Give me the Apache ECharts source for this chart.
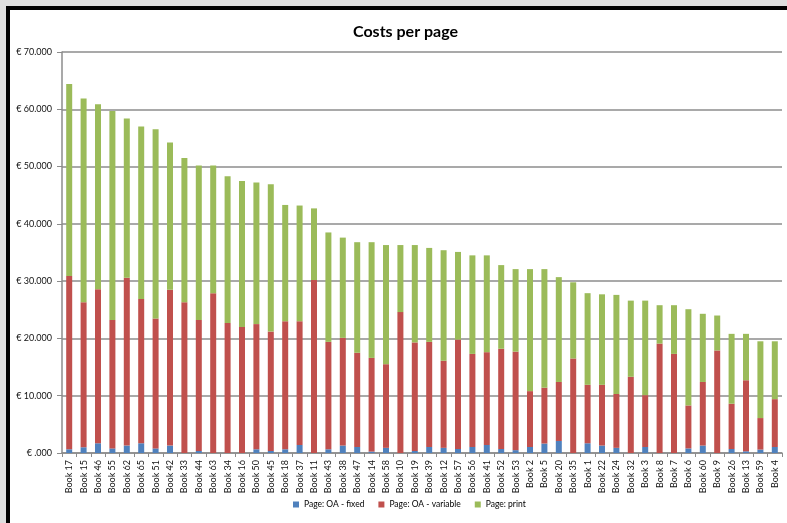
<!DOCTYPE html>
<html>
<head>
<meta charset="utf-8">
<script src="https://cdn.jsdelivr.net/npm/echarts@6/dist/echarts.min.js"></script>
<style>
  html, body { margin: 0; padding: 0; background: #fff; }
  #main { width: 787px; height: 523px; }
</style>
</head>
<body>
<div id="main"></div>
<script>
// books, sorted by total cost
const books = [
  'Book 17', 'Book 15', 'Book 46', 'Book 55', 'Book 62', 'Book 65', 'Book 51', 'Book 42', 'Book 33', 'Book 44',
  'Book 63', 'Book 34', 'Book 16', 'Book 50', 'Book 45', 'Book 18', 'Book 37', 'Book 11', 'Book 43', 'Book 38',
  'Book 47', 'Book 14', 'Book 58', 'Book 10', 'Book 19', 'Book 39', 'Book 12', 'Book 57', 'Book 56', 'Book 41',
  'Book 52', 'Book 53', 'Book 2', 'Book 5', 'Book 20', 'Book 35', 'Book 1', 'Book 22', 'Book 24', 'Book 32',
  'Book 3', 'Book 8', 'Book 7', 'Book 6', 'Book 60', 'Book 9', 'Book 26', 'Book 13', 'Book 59', 'Book 4'
];

// Page: OA - fixed
const oaFixed = [
  650, 1000, 1700, 800, 1300, 1700, 800, 1300, 0, 350,
  0, 0, 0, 650, 350, 650, 1400, 0, 650, 1300,
  1050, 250, 900, 0, 350, 1050, 900, 700, 1050, 1400,
  700, 500, 1050, 1650, 2100, 0, 1700, 1300, 900, 0,
  1050, 0, 0, 800, 1300, 0, 700, 300, 600, 1050
];

// Page: OA - variable
const oaVariable = [
  30250, 25300, 26900, 22400, 29300, 25200, 22700, 27200, 26300, 22850,
  27900, 22700, 22000, 21850, 20850, 22350, 21600, 30200, 18750, 18800,
  16450, 16350, 14600, 24600, 18950, 18350, 15200, 19100, 16250, 16200,
  17500, 17200, 9750, 9750, 10300, 16500, 10200, 10600, 9400, 13300,
  9050, 19100, 17300, 7500, 11100, 17900, 7900, 12400, 5500, 8350
];

// Page: print
const pagePrint = [
  33500, 35600, 32300, 36500, 27800, 30100, 33000, 25700, 25200, 27000,
  22300, 25600, 25500, 24700, 25700, 20300, 20200, 12500, 19100, 17500,
  19300, 20200, 20800, 11700, 17000, 16400, 19300, 15300, 17200, 16900,
  14600, 14400, 21300, 20700, 18300, 13300, 16000, 15800, 17300, 13300,
  16500, 6700, 8500, 16800, 11900, 6100, 12200, 8100, 13400, 10100
];

const font = 'Lato, "Open Sans", sans-serif';
const gridColor = '#8c8c8c';

var chartDom = document.getElementById('main');
var myChart = echarts.init(chartDom);
var option;

option = {
  animation: false,
  backgroundColor: '#dedede',
  textStyle: { fontFamily: font },
  graphic: [
    {
      type: 'rect',
      z: -10,
      shape: { x: 8, y: 8, width: 820, height: 560 },
      style: { fill: '#ffffff', stroke: '#000000', lineWidth: 4 }
    }
  ],
  title: {
    text: 'Costs per page',
    left: 348,
    top: 19,
    textStyle: { fontFamily: font, fontSize: 16, fontWeight: 'bold', color: '#000' }
  },
  legend: {
    bottom: 9,
    left: 288,
    itemWidth: 6,
    itemHeight: 6,
    itemGap: 14,
    icon: 'rect',
    textStyle: { fontFamily: font, fontSize: 8.5, color: '#000' },
    data: ['Page: OA - fixed', 'Page: OA - variable', 'Page: print']
  },
  grid: {
    left: 62,
    right: 5,
    top: 52,
    bottom: 70,
    containLabel: false
  },
  xAxis: {
    type: 'category',
    data: books,
    axisLine: { lineStyle: { color: gridColor, width: 1.5 } },
    axisTick: { show: true, inside: false, length: 4, lineStyle: { color: gridColor } },
    axisLabel: {
      interval: 0,
      rotate: 90,
      margin: 7,
      fontSize: 9,
      color: '#111',
      fontFamily: font
    }
  },
  yAxis: {
    type: 'value',
    min: 0,
    max: 70000,
    interval: 10000,
    axisLine: { show: true, lineStyle: { color: gridColor, width: 1.5 } },
    axisTick: { show: true, length: 5, lineStyle: { color: gridColor } },
    splitLine: { show: true, lineStyle: { color: gridColor, width: 1.5 } },
    axisLabel: {
      margin: 10,
      fontSize: 9,
      color: '#111',
      fontFamily: font,
      formatter: function (v) {
        return v === 0 ? '€ .000' : '€ ' + (v / 1000) + '.000';
      }
    }
  },
  series: [
    {
      name: 'Page: OA - fixed',
      type: 'bar',
      stack: 'cost',
      barWidth: 6,
      data: oaFixed,
      color: '#4F81BD'
    },
    {
      name: 'Page: OA - variable',
      type: 'bar',
      stack: 'cost',
      barWidth: 6,
      data: oaVariable,
      color: '#C0504D'
    },
    {
      name: 'Page: print',
      type: 'bar',
      stack: 'cost',
      barWidth: 6,
      data: pagePrint,
      color: '#9BBB59'
    }
  ]
};

option && myChart.setOption(option);
</script>
</body>
</html>
